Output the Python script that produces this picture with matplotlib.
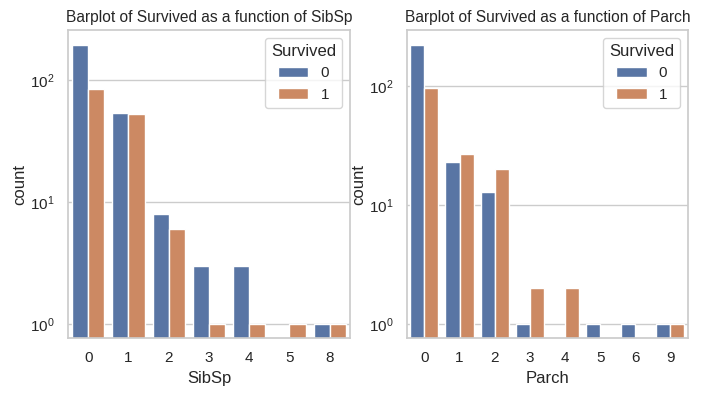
import numpy as np
import seaborn as sns
from matplotlib import pyplot as plt

sns.set_theme(style="whitegrid")
plt.rcParams["font.family"] = ["Liberation Sans", "DejaVu Sans"]

# SibSp -> count per Survived
sibsp_labels = ["0", "1", "2", "3", "4", "5", "8"]
sibsp_died = [194, 54, 8, 3, 3, 0, 1]
sibsp_survived = [85, 53, 6, 1, 1, 1, 1]

# Parch -> count per Survived
parch_labels = ["0", "1", "2", "3", "4", "5", "6", "9"]
parch_died = [221, 23, 13, 1, 0, 1, 1, 1]
parch_survived = [96, 27, 20, 2, 2, 0, 0, 1]

# seaborn barplot desaturates the palette a bit
colors = [sns.desaturate(c, 0.75) for c in sns.color_palette("deep")[:2]]

fig = plt.figure(figsize=(7.1, 3.96), dpi=100)
ax1 = fig.add_axes([0.0958, 0.146, 0.397, 0.778])
ax2 = fig.add_axes([0.573, 0.146, 0.396, 0.778])


def draw(ax, labels, died, survived, xlabel, ylim):
    x = np.arange(len(labels))
    for vals, off, c, lab in [(died, -0.2, colors[0], "0"), (survived, 0.2, colors[1], "1")]:
        vals = np.array(vals)
        m = vals > 0
        ax.bar(x[m] + off, vals[m], width=0.4, color=c, label=lab)
    ax.set_yscale("log")
    ax.set_ylim(*ylim)
    ax.set_xlim(-0.5, len(labels) - 0.5)
    ax.set_xticks(x)
    ax.set_xticklabels(labels)
    ax.tick_params(labelsize=11)
    ax.xaxis.grid(False)
    ax.yaxis.grid(True, which="major")
    ax.yaxis.grid(False, which="minor")
    ax.set_xlabel(xlabel, fontsize=12)
    ax.set_ylabel("count", fontsize=12, labelpad=2)
    ax.set_title("Barplot of Survived as a function of " + xlabel, fontsize=11.2)
    ax.legend(title="Survived", loc="upper right", fontsize=11, title_fontsize=12)


draw(ax1, sibsp_labels, sibsp_died, sibsp_survived, "SibSp", (0.768, 257))
draw(ax2, parch_labels, parch_died, parch_survived, "Parch", (0.763, 295))

fig.savefig("out.png", dpi=100)
